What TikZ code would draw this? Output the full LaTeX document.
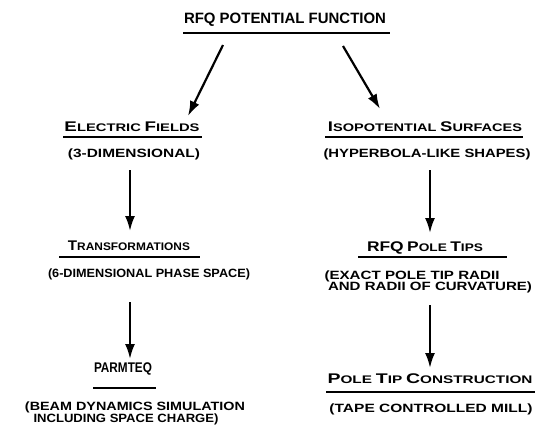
\documentclass[tikz,border=0pt]{standalone}
\usepackage{fontspec}
\setmainfont{Liberation Sans}
\usepackage{graphicx}
\usetikzlibrary{arrows.meta}
\newcommand\wbox[2]{\resizebox{#1}{\height}{#2}}
\newcommand\bigc[1]{{\fontsize{14}{14}\selectfont #1}}
\newcommand\smc[1]{{\fontsize{11}{11}\selectfont #1}}
\newcommand\paren{\fontsize{12}{12}\selectfont}
\begin{document}
\begin{tikzpicture}[x=1pt,y=-1pt,
  every node/.style={inner sep=0pt, anchor=base, font=\bfseries},
  uline/.style={line width=2pt},
  arr/.style={line width=2.2pt, -{Latex[length=15pt,width=10pt]}}]
\useasboundingbox (0,0) rectangle (538,432);
% title
\node (title) at (285,23) {\wbox{202pt}{\fontsize{15}{15}\selectfont RFQ POTENTIAL FUNCTION}};
\draw[uline] (183,33) -- (390,33);
% left column
\node (ef) at (132,131) {\wbox{135pt}{\bigc{E}\smc{LECTRIC} \bigc{F}\smc{IELDS}}};
\draw[uline] (63,137) -- (202,137);
\node (efd) at (134,157) {\wbox{132pt}{\paren (3-DIMENSIONAL)}};
\node (tr) at (129,250) {\wbox{122pt}{\bigc{T}\smc{RANSFORMATIONS}}};
\draw[uline] (59,257) -- (200,257);
\node (trd) at (149,277) {\wbox{202pt}{\paren (6-DIMENSIONAL PHASE SPACE)}};
\node (pq) at (123,372) {\wbox{58pt}{\fontsize{14}{14}\selectfont PARMTEQ}};
\draw[uline] (93,388) -- (156,388);
\node (pqd1) at (135,410) {\wbox{220pt}{\paren (BEAM DYNAMICS SIMULATION}};
\node (pqd2) at (126,422) {\wbox{185pt}{\paren INCLUDING SPACE CHARGE)}};
% right column
\node (is) at (425,131) {\wbox{194pt}{\bigc{I}\smc{SOPOTENTIAL} \bigc{S}\smc{URFACES}}};
\draw[uline] (325,137) -- (523,137);
\node (isd) at (427,157) {\wbox{207pt}{\paren (HYPERBOLA-LIKE SHAPES)}};
\node (rp) at (425,251) {\wbox{116pt}{\bigc{RFQ} \bigc{P}\smc{OLE} \bigc{T}\smc{IPS}}};
\draw[uline] (358,257) -- (507,257);
\node (rpd1) at (412,279) {\wbox{175pt}{\paren (EXACT POLE TIP RADII}};
\node (rpd2) at (430,290) {\wbox{204pt}{\paren AND RADII OF CURVATURE)}};
\node (pt) at (430,383) {\wbox{205pt}{\bigc{P}\smc{OLE} \bigc{T}\smc{IP} \bigc{C}\smc{ONSTRUCTION}}};
\draw[uline] (326,392) -- (535,392);
\node (ptd) at (431,412) {\wbox{203pt}{\paren (TAPE CONTROLLED MILL)}};
% arrows
\coordinate (a1s) at (223,45);  \coordinate (a1e) at (188,116);
\coordinate (a2s) at (343,46);  \coordinate (a2e) at (380,109);
\coordinate (a3s) at (130,170); \coordinate (a3e) at (130,231);
\coordinate (a4s) at (130,302); \coordinate (a4e) at (130,359);
\coordinate (a5s) at (430,170); \coordinate (a5e) at (430,233);
\coordinate (a6s) at (430,305); \coordinate (a6e) at (430,368);
\draw[arr] (a1s) -- (a1e);
\draw[arr] (a2s) -- (a2e);
\draw[arr] (a3s) -- (a3e);
\draw[arr] (a4s) -- (a4e);
\draw[arr] (a5s) -- (a5e);
\draw[arr] (a6s) -- (a6e);
\end{tikzpicture}
\end{document}
